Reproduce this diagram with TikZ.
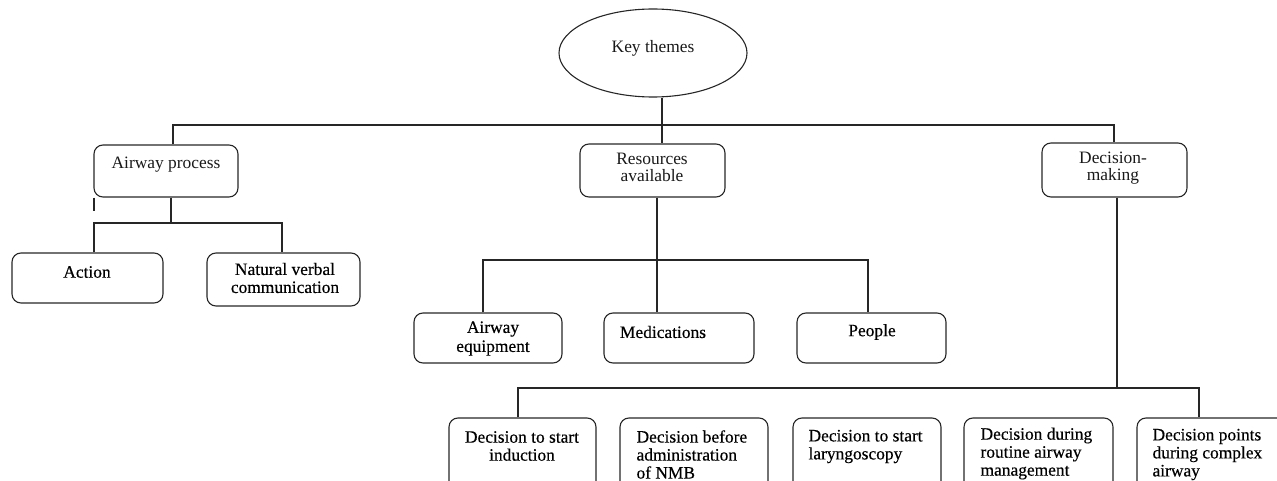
\documentclass[tikz,border=0pt]{standalone}
\usepackage{fontspec}
\setmainfont{Liberation Serif}
\newfontfamily\heavy{Liberation Serif}[FakeBold=0.4]
\usetikzlibrary{shapes.geometric}
\begin{document}
\begin{tikzpicture}[x=1pt,y=-1pt, line width=1.1pt,
  conn/.style={draw=black!85, line width=1.1pt},
  box/.style={draw=black!85, line width=1.1pt, rounded corners=9pt, inner sep=0pt},
  lbl/.style={align=center, inner sep=0pt, text=black!90, font=\fontsize{17.4}{17.5}\selectfont},
  hlbl/.style={align=center, inner sep=0pt, text=black, font=\heavy\fontsize{17.4}{18}\selectfont},
  hlblL/.style={hlbl, align=left, anchor=west}]
\useasboundingbox (0,0) rectangle (1277,481);
\clip (0,0) rectangle (1277,481);

% root
\node[draw=black!85, line width=1.1pt, ellipse, inner sep=0pt, minimum width=188pt, minimum height=88pt] (kt) at (653,53) {};
\node[lbl] (ktt) at (653,48) {Key themes};

% level 1
\node[box, minimum width=144pt, minimum height=52pt] (ap) at (166,171) {};
\node[lbl] (apt) at (166,165) {Airway process};
\node[box, minimum width=145pt, minimum height=53pt] (ra) at (652.5,170.5) {};
\node[lbl] (rat) at (652,167.5) {Resources\\available};
\node[box, minimum width=145pt, minimum height=54pt] (dm) at (1114.5,170) {};
\node[lbl] (dmt) at (1113,168) {Decision-\\making};

% level 2 (airway process)
\node[box, minimum width=151pt, minimum height=50pt] (ac) at (87.5,278) {};
\node[hlbl] (act) at (87,272) {Action};
\node[box, minimum width=153pt, minimum height=53pt] (nv) at (283.5,279.5) {};
\node[hlbl] (nvt) at (285,278) {Natural verbal\\communication};

% level 2 (resources)
\node[box, minimum width=148pt, minimum height=50pt] (ae) at (488,338) {};
\node[hlbl, font=\heavy\fontsize{17.4}{19}\selectfont] (aet) at (493,338.5) {Airway\\equipment};
\node[box, minimum width=150pt, minimum height=50pt] (me) at (679,338) {};
\node[hlbl] (met) at (663,332) {Medications};
\node[box, minimum width=149pt, minimum height=50pt] (pe) at (871.5,338) {};
\node[hlbl] (pet) at (872,332) {People};

% level 2 (decision-making)
\node[box, minimum width=147pt, minimum height=77pt] (d1) at (522.5,456.5) {};
\node[hlbl] (d1t) at (522,446) {Decision to start\\induction};
\node[box, minimum width=148pt, minimum height=77pt] (d2) at (694,456.5) {};
\node[hlblL] (d2t) at (636,454.5) {Decision before\\administration\\of NMB};
\node[box, minimum width=148pt, minimum height=77pt] (d3) at (867,456.5) {};
\node[hlblL] (d3t) at (808,446.5) {Decision to start\\laryngoscopy};
\node[box, minimum width=149pt, minimum height=77pt] (d4) at (1038.5,456.5) {};
\node[hlblL] (d4t) at (980,453.5) {Decision during\\routine airway\\management};
\node[box, minimum width=153pt, minimum height=77pt] (d5) at (1213.5,456.5) {};
\node[hlblL] (d5t) at (1152,454.5) {Decision points\\during complex\\airway};

% helper coordinates
\coordinate (b0l) at (173,125);
\coordinate (b0r) at (1114,125);
\coordinate (kx) at (662,0);
\coordinate (apx) at (171,0);
\coordinate (acx) at (94,0);
\coordinate (nvx) at (282,0);
\coordinate (b1) at (0,223);
\coordinate (rax) at (657,0);
\coordinate (aex) at (483,0);
\coordinate (pex) at (868,0);
\coordinate (b2) at (0,260);
\coordinate (dmx) at (1117,0);
\coordinate (d1x) at (518,0);
\coordinate (d5x) at (1199,0);
\coordinate (b3) at (0,388);

% connectors
\draw[conn] (ap.north -| b0l) -- (b0l) -- (b0r) -- (dm.north -| b0r);
\draw[conn] (kt.south -| kx) -- (ra.north -| kx);

\draw[conn] (ap.south -| apx) -- (apx |- b1);
\draw[conn] (ac.north -| acx) -- (acx |- b1) -- (nvx |- b1) -- (nv.north -| nvx);
\draw[conn] (ap.south -| acx) -- ++(0,13);

\draw[conn] (ra.south -| rax) -- (me.north -| rax);
\draw[conn] (ae.north -| aex) -- (aex |- b2) -- (pex |- b2) -- (pe.north -| pex);

\draw[conn] (dm.south -| dmx) -- (dmx |- b3);
\draw[conn] (d1.north -| d1x) -- (d1x |- b3) -- (d5x |- b3) -- (d5.north -| d5x);
\end{tikzpicture}
\end{document}
